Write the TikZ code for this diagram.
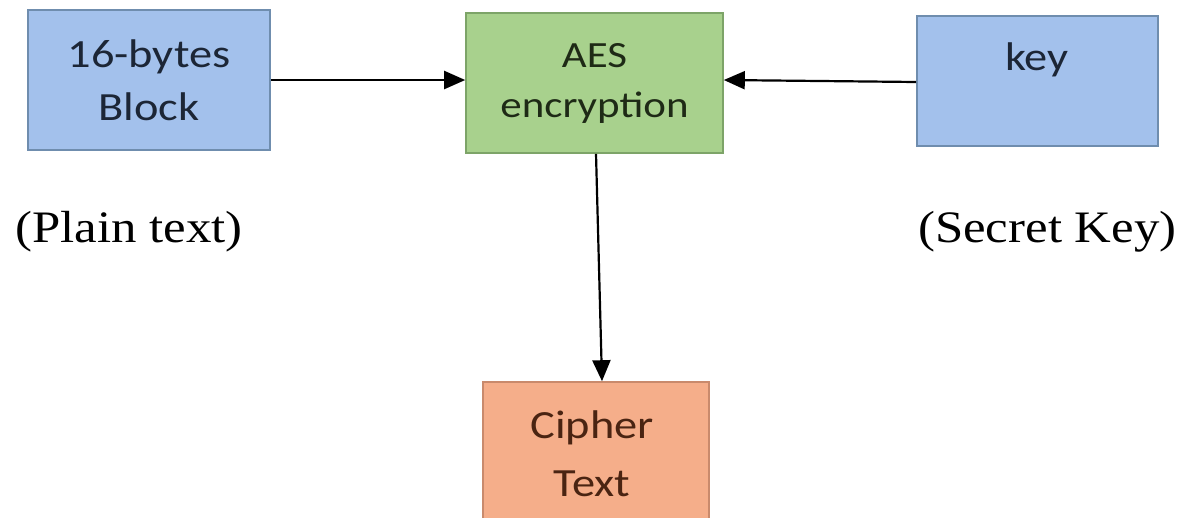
\documentclass[tikz,border=0pt]{standalone}
\usepackage{fontspec}
\usetikzlibrary{arrows.meta}
\newfontfamily\boxfont[FakeStretch=1.16]{Carlito}
\newfontfamily\notefont[FakeStretch=1.13]{Liberation Serif}
\definecolor{bluefill}{HTML}{A3C1EC}
\definecolor{blueedge}{HTML}{6F8DAE}
\definecolor{greenfill}{HTML}{A8D18D}
\definecolor{greenedge}{HTML}{7DA468}
\definecolor{orangefill}{HTML}{F5AE8A}
\definecolor{orangeedge}{HTML}{C98A6C}
\definecolor{bluetext}{HTML}{1C2636}
\definecolor{greentext}{HTML}{1E2A16}
\definecolor{browntext}{HTML}{4A2412}
\tikzset{
  procbox/.style={draw, line width=1.6pt, inner sep=0pt, align=center,
    font=\boxfont\fontsize{40}{53}\selectfont},
  inputbox/.style={procbox, fill=bluefill, draw=blueedge, text=bluetext},
  aesbox/.style={procbox, fill=greenfill, draw=greenedge, text=greentext,
    font=\boxfont\fontsize{37}{50}\selectfont},
  outbox/.style={procbox, fill=orangefill, draw=orangeedge},
  boxtext/.style={inner sep=0pt, align=center, font=\boxfont\fontsize{40}{58}\selectfont},
  note/.style={anchor=base west, inner sep=0pt, font=\notefont\fontsize{45}{54}\selectfont},
  arr/.style={draw=black, line width=2.2pt, -{Triangle[length=21pt,width=18pt]}},
}
\begin{document}
\begin{tikzpicture}[x=1pt,y=-1pt]
  \useasboundingbox (0,0) rectangle (1182,517);
  \fill[white] (0,0) rectangle (1182,517);
  \clip (0,0) rectangle (1182,517);

  % input block, cipher core and key
  \node[inputbox, minimum width=242pt, minimum height=140pt] (block) at (149,80) {16-bytes\\Block};
  \node[aesbox, minimum width=257pt, minimum height=140pt] (aes) at (594.5,83) {AES\\encryption};
  \node[inputbox, minimum width=241pt, minimum height=130pt] (key) at (1037.5,81) {};
  \node[boxtext, text=bluetext] (keytext) at (1037,60) {key};

  % output block, partly below the lower edge
  \node[outbox, minimum width=226pt, minimum height=156pt] (cipher) at (596,460) {};
  \node[boxtext, text=browntext] (ciphertext) at (592,454) {Cipher\\Text};

  % captions under the inputs
  \node[note] (plain) at (15,242) {(Plain text)};
  \node[note] (secret) at (918,242) {(Secret Key)};

  % data flow
  \draw[arr] (block.east) -- ([yshift=3pt]aes.west);
  \draw[arr] ([yshift=-1pt]key.west) -- ([yshift=3pt]aes.east);
  \draw[arr] ([xshift=1.5pt]aes.south) -- ([xshift=6pt]cipher.north);
\end{tikzpicture}
\end{document}
